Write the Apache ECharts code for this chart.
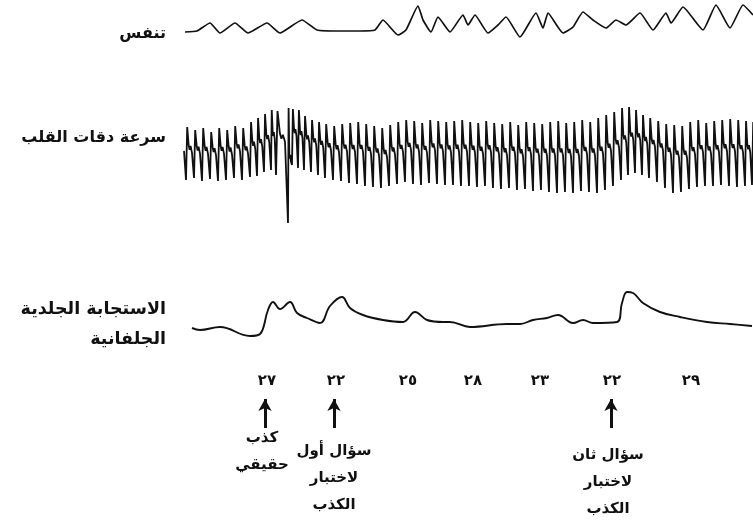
<!DOCTYPE html>
<html>
<head>
<meta charset="utf-8">
<script src="https://cdn.jsdelivr.net/npm/echarts@6/dist/echarts.min.js"></script>
<style>
html,body{margin:0;padding:0;background:#fff;}
#chart{width:753px;height:521px;}
</style>
</head>
<body>
<div id="chart"></div>
<script>
// ---------- DATA ----------
// Respiration trace: time, amplitude
const respTime = [1,13,26,36,51,64,83,96,118,133,156,176,191,199,214,222,234,239,247,254,266,279,284,291,304,314,322,336,352,359,364,379,389,399,409,422,432,442,456,469,482,487,499,519,532,546,559,569];
const respValue = [13,14,22,12,22,12,22,12,25,15,14,14,15,25,10,15,39,25,13,28,13,30,20,30,12,20,28,8,32,17,32,12,18,33,25,17,25,20,32,15,32,22,38,15,40,17,40,30];

// Heart-rate (cardio) trace: beat times, systolic tops, diastolic bottoms
const heartBeatTime = [2,10,18,26,34,42,50,58,66,73,80,87,92,104,108,114,120,127,134,141,149,157,165,173,181,189,197,205,213,221,229,237,245,253,261,269,277,285,293,301,309,317,325,333,341,349,357,365,373,381,389,397,405,413,421,429,437,444,451,458,465,473,481,489,497,505,513,521,529,537,545,553,561,568];
const heartBeatTop = [108,105,107,103,107,105,109,107,113,117,121,125,124,127,126,125,119,115,113,111,109,111,112,113,111,109,107,110,113,115,114,112,115,114,113,114,115,113,112,114,112,111,113,110,113,112,111,113,114,112,113,115,113,117,120,123,127,128,125,120,117,114,111,110,109,113,115,112,114,115,116,115,114,113];
const heartBeatBottom = [55,57,54,56,54,55,57,55,58,59,63,65,60,12,70,67,65,63,60,57,55,54,52,51,49,48,47,49,51,53,51,50,52,51,50,50,49,49,48,49,47,46,47,45,46,44,45,43,42,43,42,44,43,42,45,49,55,60,62,60,57,53,47,42,43,46,48,49,49,50,49,48,49,50];

// Galvanic skin response trace: time, level
const gsrTime = [8,16,36,66,76,84,89,96,106,113,123,136,146,158,166,179,199,219,231,243,259,266,286,323,336,349,363,374,389,399,409,433,438,443,449,459,476,496,523,546,568];
const gsrValue = [12,10,13,4,6,30,38,31,38,27,22,17,34,43,32,25,20,18,28,20,18,18,13,16,16,20,22,25,17,20,17,18,37,48,47,37,28,23,18,16,14];

// Question numbers along the time axis
const tickTime = [83,152,224,289,356,428,507];
const tickLabels = ['٢٧','٢٢','٢٥','٢٨','٢٣','٢٢','٢٩'];

// Arrows marking questions
const arrowTime = [81,150,427];
const noteTime = [78,150,424];
const noteTexts = ['كذب\nحقيقي','سؤال أول\nلاختبار\nالكذب','سؤال ثان\nلاختبار\nالكذب'];

// Channel labels
const channelLabels = ['تنفس','سرعة دقات القلب','الاستجابة الجلدية\nالجلفانية'];

// ---------- BUILD ----------
const FONT = '"DejaVu Sans", sans-serif';
const INK = '#111111';

const respData = respTime.map((t,i)=>[t,respValue[i]]);
const gsrData = gsrTime.map((t,i)=>[t,gsrValue[i]]);

const heartData = [];
for (let i=0;i<heartBeatTime.length;i++){
  const t = heartBeatTime[i], top = heartBeatTop[i], bot = heartBeatBottom[i];
  const next = i+1<heartBeatTime.length ? heartBeatTime[i+1] : t+8;
  const sp = next - t;
  const mid = bot + 0.55*(top-bot);
  if (i===0) heartData.push([0, mid]);
  heartData.push([t, bot]);
  heartData.push([t+Math.min(0.15*sp,1.5), top]);
  heartData.push([t+0.33*sp, mid+6]);
  heartData.push([t+0.45*sp, mid+1]);
  heartData.push([t+0.57*sp, mid+5]);
  heartData.push([t+0.75*sp, mid-2]);
}

const XMAX = 569;
const grids = [
  {left:184, right:0, top:0, height:45},
  {left:184, right:0, top:95, height:140},
  {left:184, right:0, top:280, height:60},
  {left:184, right:0, top:390, height:131}
];
function xa(idx, extra){
  return Object.assign({gridIndex:idx, type:'value', min:0, max:XMAX, show:false}, extra||{});
}
function ya(idx, min, max, extra){
  return Object.assign({gridIndex:idx, type:'value', min:min, max:max, show:false}, extra||{});
}

const option = {
  backgroundColor:'#ffffff',
  animation:false,
  grid: grids,
  xAxis: [
    xa(0), xa(1),
    {gridIndex:2, type:'value', min:0, max:XMAX, show:true,
      axisLine:{show:false}, axisTick:{show:false}, splitLine:{show:false},
      axisLabel:{show:true, customValues: tickTime, margin:34, color:INK,
        fontFamily:FONT, fontSize:15, fontWeight:'bold',
        formatter:(v)=>{const k=tickTime.indexOf(v); return k>=0?tickLabels[k]:'';}}},
    xa(3)
  ],
  yAxis: [
    ya(0,0,45), ya(1,0,140), ya(2,0,60), ya(3,0,131,{inverse:true})
  ],
  graphic: [
    {type:'text', right: 753-166, top: 26, style:{text:channelLabels[0], font:'bold 16px '+FONT, fill:INK, textAlign:'right'}},
    {type:'text', right: 753-166, top: 130, style:{text:channelLabels[1], font:'bold 16px '+FONT, fill:INK, textAlign:'right'}},
    {type:'text', right: 753-166, top: 294, style:{text:channelLabels[2], font:'bold 17.5px '+FONT, fill:INK, textAlign:'right', lineHeight:30}}
  ],
  series: [
    {type:'line', xAxisIndex:0, yAxisIndex:0, data:respData, smooth:0.15, symbol:'none',
      lineStyle:{color:INK, width:1.7}},
    {type:'line', xAxisIndex:1, yAxisIndex:1, data:heartData, smooth:false, symbol:'none',
      lineStyle:{color:INK, width:1.8}},
    {type:'line', xAxisIndex:2, yAxisIndex:2, data:gsrData, smooth:0.4, symbol:'none',
      lineStyle:{color:INK, width:1.9}},
    {type:'scatter', xAxisIndex:3, yAxisIndex:3, symbolSize:0,
      itemStyle:{opacity:1},
      data: noteTime.map((t,i)=>[t, i===0?62:(i===1?88:92)]),
      label:{show:true, position:'inside', color:INK, fontFamily:FONT, fontSize:15, fontWeight:'bold',
        lineHeight:27, align:'center', verticalAlign:'middle',
        formatter:(p)=>noteTexts[p.dataIndex]},
      markLine:{silent:true, symbol:['none','arrow'], symbolSize:[10,12],
        label:{show:false},
        lineStyle:{color:INK, width:3, type:'solid', opacity:1},
        data: arrowTime.map(t=>[{coord:[t,38]},{coord:[t,9]}])}
    }
  ]
};
const chart = echarts.init(document.getElementById('chart'), null, {renderer:'canvas'});
chart.setOption(option);
</script>
</body>
</html>
